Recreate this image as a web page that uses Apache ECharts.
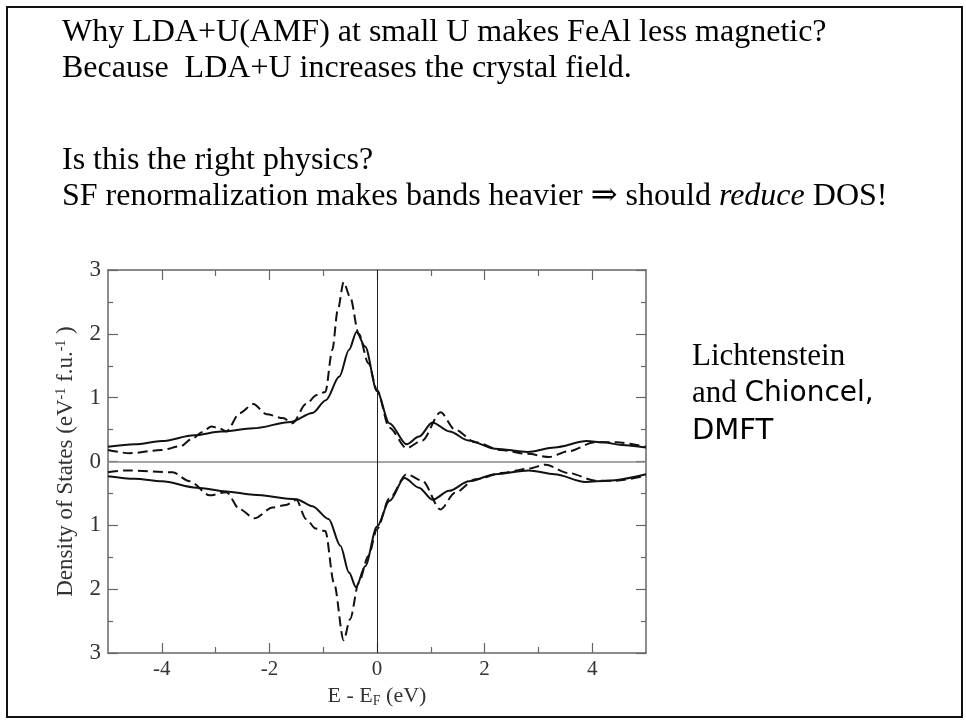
<!DOCTYPE html>
<html>
<head>
<meta charset="utf-8">
<script src="https://cdn.jsdelivr.net/npm/echarts@6/dist/echarts.min.js"></script>
<style>
  html, body { margin: 0; padding: 0; background: #fff; }
  #chart { width: 966px; height: 723px; }
</style>
</head>
<body>
<div id="chart"></div>
<script>
// spin up, solid (DMFT)
const upSolidX = [-5, -4.5, -4, -3.4, -2.9, -2.3, -1.6, -1.2, -0.95, -0.7, -0.52, -0.38, -0.22, 0, 0.23, 0.55, 0.78, 1.03, 1.35, 1.7, 2.2, 2.8, 3.3, 3.9, 4.2, 4.55, 5];
const upSolidY = [0.23, 0.27, 0.32, 0.41, 0.47, 0.52, 0.62, 0.76, 0.96, 1.33, 1.75, 2.03, 1.8, 1.1, 0.6, 0.27, 0.39, 0.61, 0.47, 0.33, 0.2, 0.15, 0.22, 0.32, 0.3, 0.26, 0.22];
// spin up, dashed
const upDashX = [-5, -4.6, -4.0, -3.65, -3.45, -3.25, -3.08, -2.93, -2.8, -2.55, -2.3, -2.05, -1.75, -1.57, -1.32, -1.12, -0.96, -0.83, -0.73, -0.62, -0.5, -0.34, -0.16, 0, 0.23, 0.55, 0.84, 1.18, 1.45, 1.83, 2.3, 2.8, 3.2, 3.55, 4.05, 4.45, 5];
const upDashY = [0.18, 0.13, 0.18, 0.24, 0.35, 0.46, 0.55, 0.52, 0.47, 0.76, 0.9, 0.74, 0.68, 0.6, 0.9, 1.04, 1.09, 1.75, 2.37, 2.81, 2.58, 2.0, 1.54, 1.12, 0.53, 0.21, 0.33, 0.77, 0.5, 0.3, 0.18, 0.12, 0.07, 0.16, 0.3, 0.3, 0.23];
// spin down, solid (drawn below zero)
const dnSolidX = [-5, -4.5, -4, -3.35, -2.8, -2.3, -1.5, -1.2, -0.9, -0.68, -0.52, -0.39, -0.22, 0, 0.23, 0.51, 0.78, 1.03, 1.34, 1.71, 2.2, 2.82, 3.3, 3.87, 4.3, 5];
const dnSolidY = [-0.23, -0.27, -0.31, -0.41, -0.47, -0.52, -0.59, -0.7, -0.9, -1.32, -1.74, -1.97, -1.64, -1.02, -0.62, -0.26, -0.41, -0.6, -0.46, -0.31, -0.2, -0.14, -0.2, -0.32, -0.3, -0.2];
// spin down, dashed
const dnDashX = [-5, -4.66, -3.8, -3.48, -3.11, -2.8, -2.55, -2.28, -1.94, -1.69, -1.5, -1.32, -1.14, -0.96, -0.8, -0.62, -0.5, -0.34, -0.16, 0, 0.23, 0.55, 0.84, 1.18, 1.45, 1.83, 2.32, 2.82, 3.13, 3.56, 4.06, 4.43, 5];
const dnDashY = [-0.17, -0.14, -0.17, -0.31, -0.53, -0.48, -0.75, -0.89, -0.72, -0.68, -0.6, -0.9, -1.05, -1.09, -1.9, -2.8, -2.47, -1.9, -1.48, -1.06, -0.58, -0.2, -0.3, -0.75, -0.49, -0.28, -0.18, -0.11, -0.05, -0.18, -0.3, -0.3, -0.22];

// tick positions
const xMajorTicks = [-4, -2, 0, 2, 4];
const xMinorTicks = [-3, -1, 1, 3];

const serif = '"Liberation Serif", "DejaVu Serif", serif';
const sans = '"DejaVu Sans", sans-serif';

const pairs = (xs, ys) => xs.map((x, i) => [x, ys[i]]);

const chart = echarts.init(document.getElementById('chart'));

// x axes: major ticks with labels, minor ticks without; bottom and top mirrored
const makeX = (pos, major, withLabel) => ({
  type: 'value',
  position: pos,
  min: -5,
  max: 5,
  interval: 1,
  axisLine: { show: major, onZero: false, lineStyle: { color: '#666', width: 1.5 } },
  axisTick: {
    show: true, inside: true, length: major ? 10 : 6,
    customValues: major ? xMajorTicks : xMinorTicks,
    lineStyle: { color: '#666', width: 1.2 }
  },
  axisLabel: {
    show: withLabel, customValues: xMajorTicks, margin: 6,
    fontFamily: serif, fontSize: 21, color: '#333'
  },
  splitLine: { show: false },
  name: withLabel ? 'E - E{sub|F} (eV)' : '',
  nameLocation: 'middle',
  nameGap: 31,
  nameTextStyle: {
    fontFamily: serif, fontSize: 22, color: '#333',
    rich: { sub: { fontFamily: serif, fontSize: 14, color: '#333', verticalAlign: 'bottom', padding: [10, 0, 0, 0] } }
  }
});

const makeY = (pos, withLabel) => ({
  type: 'value',
  position: pos,
  min: -3,
  max: 3,
  interval: 1,
  axisLine: { show: true, onZero: false, lineStyle: { color: '#666', width: 1.5 } },
  axisTick: { show: true, inside: true, length: 10, lineStyle: { color: '#666', width: 1.2 } },
  minorTick: { show: true, splitNumber: 2, length: 5, lineStyle: { color: '#666', width: 1.2 } },
  axisLabel: {
    show: withLabel, margin: 7,
    fontFamily: serif, fontSize: 23, color: '#333',
    formatter: v => String(Math.abs(v))
  },
  splitLine: { show: false },
  name: withLabel ? 'Density of States (eV{sup|-1} f.u.{sup|-1} )' : '',
  nameLocation: 'middle',
  nameGap: 30,
  nameTextStyle: {
    fontFamily: serif, fontSize: 23, color: '#333',
    rich: { sup: { fontFamily: serif, fontSize: 14, color: '#333', verticalAlign: 'top', padding: [0, 0, 10, 0] } }
  }
});

const curve = (xs, ys, dashed) => ({
  type: 'line',
  data: pairs(xs, ys),
  showSymbol: false,
  smooth: 0.3,
  smoothMonotone: 'x',
  lineStyle: { color: '#111', width: 2, type: dashed ? [10, 5] : 'solid' },
  z: 3
});

chart.setOption({
  animation: false,
  grid: { left: 108, right: 320, top: 270, bottom: 70, outerBoundsMode: 'none' },
  xAxis: [
    makeX('bottom', true, true),
    makeX('bottom', false, false),
    makeX('top', true, false),
    makeX('top', false, false)
  ],
  yAxis: [makeY('left', true), makeY('right', false)],
  series: [
    Object.assign(curve(upSolidX, upSolidY, false), {
      markLine: {
        silent: true,
        symbol: 'none',
        label: { show: false },
        data: [
          { yAxis: 0, lineStyle: { color: '#888', width: 1.5, type: 'solid' } },
          { xAxis: 0, lineStyle: { color: '#222', width: 1, type: 'solid' } }
        ]
      }
    }),
    curve(upDashX, upDashY, true),
    curve(dnSolidX, dnSolidY, false),
    curve(dnDashX, dnDashY, true)
  ],
  graphic: [
    // slide frame
    { type: 'rect', shape: { x: 7, y: 7, width: 955, height: 710 },
      style: { fill: 'none', stroke: '#111', lineWidth: 2 } },
    { type: 'text', x: 62, y: 33, style: { text: 'Why LDA+U(AMF) at small U makes FeAl less magnetic?',
      font: '32px ' + serif, fill: '#000', verticalAlign: 'middle' } },
    { type: 'text', x: 62, y: 69, style: { text: 'Because  LDA+U increases the crystal field.',
      font: '32px ' + serif, fill: '#000', verticalAlign: 'middle' } },
    { type: 'text', x: 62, y: 161, style: { text: 'Is this the right physics?',
      font: '32px ' + serif, fill: '#000', verticalAlign: 'middle' } },
    { type: 'text', x: 62, y: 197, style: {
      text: 'SF renormalization makes bands heavier \u21D2 should {it|reduce} DOS!',
      font: '32px ' + serif, fill: '#000', verticalAlign: 'middle',
      rich: { it: { fontFamily: serif, fontSize: 32, fontStyle: 'italic', fill: '#000' } } } },
    { type: 'text', x: 692, y: 357, style: { text: 'Lichtenstein',
      font: '31px ' + serif, fill: '#000', verticalAlign: 'middle' } },
    { type: 'text', x: 692, y: 394, style: { text: 'and {s|Chioncel,}',
      font: '31px ' + serif, fill: '#000', verticalAlign: 'middle',
      rich: { s: { fontFamily: sans, fontSize: 28, fill: '#000' } } } },
    { type: 'text', x: 692, y: 431, style: { text: 'DMFT',
      font: '29px ' + sans, fill: '#000', verticalAlign: 'middle' } }
  ]
});
</script>
</body>
</html>
